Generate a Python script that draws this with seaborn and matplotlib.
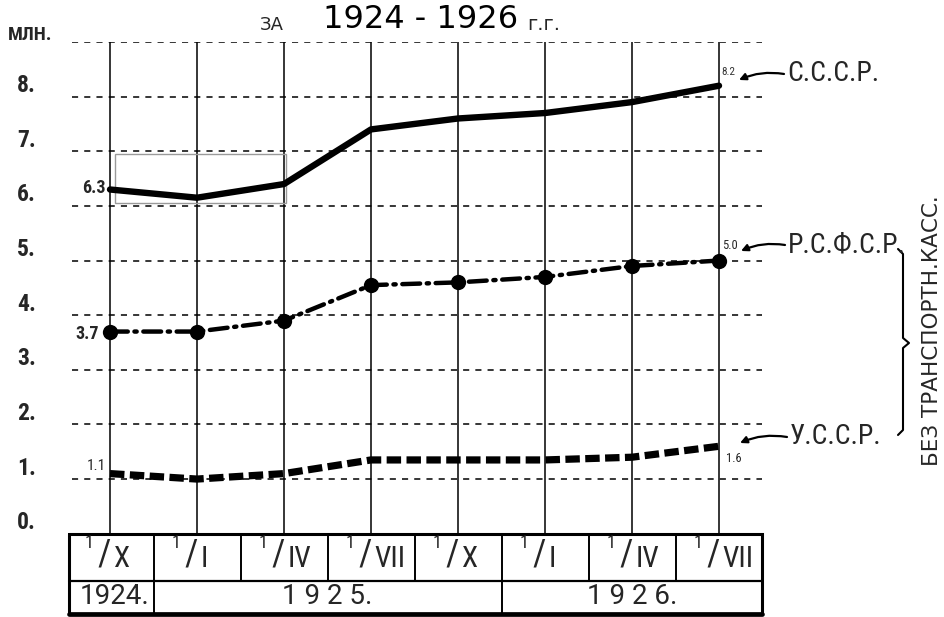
import numpy as np
import pandas as pd
import matplotlib
matplotlib.use("Agg")
import matplotlib.pyplot as plt
import seaborn as sns

# ---- data ---------------------------------------------------------------
months = ["X", "I", "IV", "VII", "X", "I", "IV", "VII"]
years = ["1924.", "1925.", "1926."]
year_spans = [(0, 0), (1, 4), (5, 7)]          # column ranges of each year
ussr = [6.3, 6.15, 6.4, 7.4, 7.6, 7.7, 7.9, 8.2]
rsfsr = [3.7, 3.7, 3.9, 4.55, 4.6, 4.7, 4.9, 5.0]
ukr = [1.1, 1.0, 1.1, 1.35, 1.35, 1.35, 1.4, 1.6]
y_ticks = [0, 1, 2, 3, 4, 5, 6, 7, 8]

sns.set_theme(style="white")
plt.rcParams["font.family"] = ["DejaVu Sans"]
NARROW = ["Roboto Condensed", "DejaVu Sans"]

fig = plt.figure(figsize=(9.44, 6.17), dpi=100)
W, H = 944, 617
X0, UX = 110.0, 87.0        # pixel of first column and column step
Y0, UY = 533.7, 54.63       # pixel of value 0 and pixels per unit
TL, TR, TB, TM = 69, 762, 614, 581   # table left/right/bottom/row split

ax = fig.add_axes([TL / W, 1 - TB / H, (TR - TL) / W, (TB - 42) / H])
ax.set_xlim((TL - X0) / UX, (TR - X0) / UX)
ax.set_ylim((Y0 - TB) / UY, 9.0)
ax.axis("off")


def dx(px):
    return (px - X0) / UX


def dy(py):
    return (Y0 - py) / UY


def ntext(x, y, s, **kw):
    kw.setdefault("family", NARROW)
    kw.setdefault("clip_on", False)
    return ax.text(x, y, s, **kw)


xs = np.arange(len(months))
xl, xr = dx(72), dx(762)

# grid: dashed horizontals, solid verticals
for v in list(range(1, 10)):
    ax.plot([xl, xr], [v, v], color="black", lw=1.1,
            linestyle=(0, (4, 4)), zorder=1)
for x in xs:
    ax.plot([x, x], [0, 9], color="black", lw=1.1, zorder=1)

# thin box around the first С.С.С.Р. segment
ax.add_patch(plt.Rectangle((0.06, 6.05), 1.96, 0.9, fill=False,
                           ec="#9a9a9a", lw=1.0, zorder=2))

df = pd.DataFrame({"x": np.tile(xs, 3),
                   "v": ussr + rsfsr + ukr,
                   "s": ["С.С.С.Р."] * 8 + ["Р.С.Ф.С.Р."] * 8 + ["У.С.С.Р."] * 8})

sns.lineplot(data=df[df.s == "С.С.С.Р."], x="x", y="v", ax=ax, color="black",
             lw=4.6, solid_capstyle="round", zorder=5, legend=False)
sns.lineplot(data=df[df.s == "Р.С.Ф.С.Р."], x="x", y="v", ax=ax, color="black",
             lw=3.2, linestyle=(0, (4.0, 1.5, 0.5, 1.5)),
             dash_capstyle="round", marker="o", markersize=11,
             markeredgewidth=0, zorder=5, legend=False)
sns.lineplot(data=df[df.s == "У.С.С.Р."], x="x", y="v", ax=ax, color="black",
             lw=5.2, linestyle=(0, (2.0, 0.75)), dash_capstyle="butt",
             zorder=5, legend=False)

# value labels at both ends
ntext(dx(106), ussr[0] + 0.02, f"{ussr[0]:.1f}", ha="right", va="center",
      fontsize=13, fontweight="bold")
ntext(dx(99), rsfsr[0] - 0.05, f"{rsfsr[0]:.1f}", ha="right", va="center",
      fontsize=13, fontweight="bold")
ntext(dx(106), ukr[0] + 0.14, f"{ukr[0]:.1f}", ha="right", va="center",
      fontsize=11)
ntext(dx(721), ussr[-1] + 0.25, f"{ussr[-1]:.1f}", ha="left", va="center",
      fontsize=8, color="#333333")
ntext(dx(722), rsfsr[-1] + 0.28, f"{rsfsr[-1]:.1f}", ha="left", va="center",
      fontsize=9)
ntext(dx(726), ukr[-1] - 0.22, f"{ukr[-1]:.1f}", ha="left", va="center",
      fontsize=9)

# series names with arrows
arrow = dict(arrowstyle="-|>", color="black", lw=1.6, mutation_scale=10,
             shrinkA=0, shrinkB=0, connectionstyle="arc3,rad=0.15")
for name, (tx, ty), (hx, hy) in [("С.С.С.Р.", (787, 74), (739, 80)),
                                 ("Р.С.Ф.С.Р.", (788, 245), (741, 251)),
                                 ("У.С.С.Р.", (790, 437), (740, 443))]:
    ntext(dx(tx), dy(ty), name, ha="left", va="center", fontsize=20)
    ax.annotate("", xy=(dx(hx), dy(hy)), xytext=(dx(tx - 3), dy(ty)),
                arrowprops=arrow, annotation_clip=False)

# brace grouping the republics
bx = [898, 903, 903, 909, 903, 903, 898]
by = [249, 254, 338, 343, 348, 430, 435]
ax.plot([dx(p) for p in bx], [dy(p) for p in by], color="black", lw=1.5,
        clip_on=False)
ax.text(dx(932), dy(331), "БЕЗ ТРАНСПОРТН.КАСС.", rotation=90, ha="center",
        va="center", fontsize=15.5, clip_on=False)

# y tick labels
for v in y_ticks:
    ntext(dx(17), v + 0.2, f"{v}.", ha="left", va="center", fontsize=17,
          fontweight="bold")
fig.text(8 / W, 1 - 35 / H, "МЛН.", ha="left", va="center", fontsize=14,
         fontweight="bold", family=NARROW)

# title
fig.text(272 / W, 1 - 25 / H, "ЗА", ha="center", va="center", fontsize=13)
fig.text(421 / W, 1 - 20 / H, "1924 - 1926", ha="center", va="center",
         fontsize=23, color="black")
fig.text(527 / W, 1 - 25 / H, "г.г.", ha="left", va="center", fontsize=14)

# date table under the chart
yb, ym = dy(TB), dy(TM)
ax.plot([dx(TL), dx(TR), dx(TR), dx(TL), dx(TL)],
        [0, 0, yb, yb, 0], color="black", lw=2.2, clip_on=False,
        solid_joinstyle="miter")
ax.plot([dx(TL), dx(TR)], [yb, yb], color="black", lw=3.4, clip_on=False)
ax.plot([dx(TL), dx(TR)], [ym, ym], color="black", lw=1.6, clip_on=False)
for i in range(len(months) - 1):
    ax.plot([i + 0.5, i + 0.5], [0, ym], color="black", lw=1.4, clip_on=False)
for a, b in year_spans[:-1]:
    ax.plot([b + 0.5, b + 0.5], [ym, yb], color="black", lw=1.4,
            clip_on=False)
for i, m in enumerate(months):
    ntext(i - 0.24, dy(543), "1", ha="center", va="center", fontsize=13)
    ntext(i - 0.07, dy(555), "/", ha="center", va="center", fontsize=26)
    ntext(i + 0.04, dy(559), m, ha="left", va="center", fontsize=21)
for (a, b), yr in zip(year_spans, years):
    label = yr if a == b else " ".join(yr[:-1]) + "."
    ntext((a + b) / 2 + (0.05 if a == b else 0), dy(597), label, ha="center",
          va="center", fontsize=20, family=["Roboto", "DejaVu Sans"])

fig.savefig("out.png", dpi=100, facecolor="white")
